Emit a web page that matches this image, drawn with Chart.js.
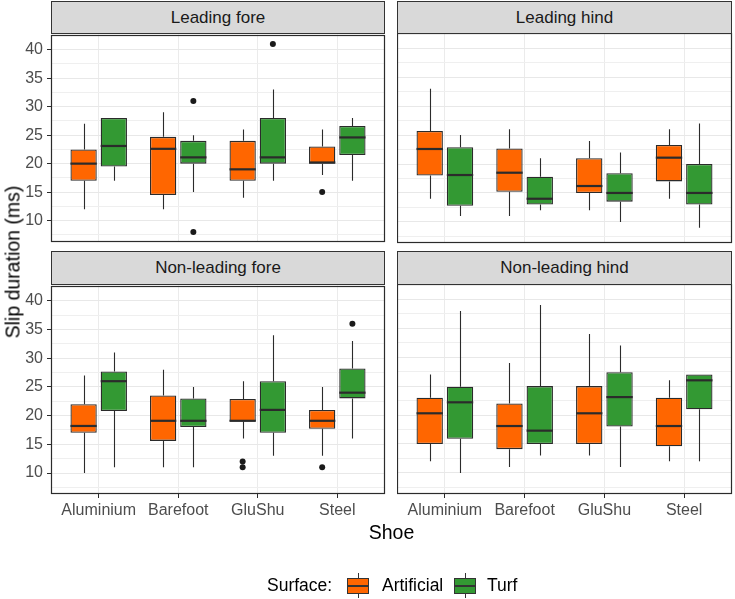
<!DOCTYPE html>
<html>
<head>
<meta charset="utf-8">
<script src="https://cdn.jsdelivr.net/npm/chart.js@4.4.1/dist/chart.umd.min.js"></script>
<style>
  body { margin: 0; background: #fff; font-family: 'Liberation Sans', Arial, sans-serif; }
  #wrap { position: relative; width: 735px; height: 599px; overflow: hidden; background: #fff; }
  canvas { position: absolute; }
  .strip { position: absolute; box-sizing: border-box; background: #D9D9D9; border: 1px solid #333;
           color: #1A1A1A; font-size: 17px; text-align: center; }
  .txt { position: absolute; white-space: nowrap; color: #000; }
  .key { position: absolute; box-sizing: border-box; width: 22px; height: 16px; border: 1px solid #333; }
  .key .med { position: absolute; left: 0; right: 0; top: 6px; height: 2px; background: #333; }
  .key .wh { position: absolute; left: 10px; width: 1px; height: 5px; background: #333; }
</style>
</head>
<body>
<div id="wrap"></div>
<script>
// categories
const shoes = ['Aluminium', 'Barefoot', 'GluShu', 'Steel'];
const surfaces = ['Artificial', 'Turf'];
const panelNames = ['Leading fore', 'Leading hind', 'Non-leading fore', 'Non-leading hind'];
const yTicks = [10, 15, 20, 25, 30, 35, 40];

// per shoe: [lower whisker, Q1, median, Q3, upper whisker]
const leadingForeArtificial = [[12, 17, 20, 22.5, 27], [12, 14.5, 22.6, 24.7, 29], [14, 17, 19, 24, 26], [18, 20, 20.2, 23, 26]];
const leadingForeTurf = [[17, 19.5, 23.1, 28, 28], [15, 20, 21.1, 24, 25], [17, 20, 21.1, 28, 33], [17, 21.5, 24.6, 26.6, 28]];
const leadingHindArtificial = [[14, 18, 22.6, 25.7, 33], [11, 15.2, 18.5, 22.7, 26], [12, 15, 16.2, 21, 24], [14, 17, 21.1, 23.3, 26]];
const leadingHindTurf = [[11, 12.8, 18.1, 22.9, 25], [12, 13, 14, 17.8, 21], [10, 13.5, 15, 18.4, 22], [9, 13, 15, 20, 27]];
const nonLeadingForeArtificial = [[10, 17, 18.2, 22, 27], [11, 15.6, 19.1, 23.5, 28], [16, 19, 19.1, 22.9, 26], [13, 17.7, 19.1, 21, 25]];
const nonLeadingForeTurf = [[11, 20.8, 26, 27.7, 31], [11, 18, 19.1, 23, 25], [13, 17, 21, 26, 34], [16, 23, 24, 28.2, 33]];
const nonLeadingHindArtificial = [[12, 15, 20.3, 23, 27], [11, 14.1, 18.1, 22, 29], [13, 15, 20.3, 25, 34], [12, 14.6, 18.1, 23, 26]];
const nonLeadingHindTurf = [[10, 15.9, 22.2, 24.9, 38], [13, 15, 17.3, 25, 39], [11, 18, 23.1, 27.4, 32], [12, 21, 26, 27, 27]];

// outliers per shoe
const leadingForeArtificialOut = [[], [], [], [15]];
const leadingForeTurfOut = [[], [31, 8], [41], []];
const nonLeadingForeArtificialOut = [[], [], [12, 11], [11]];
const nonLeadingForeTurfOut = [[], [], [], [36]];
const noOut = [[], [], [], []];

const fills = ['#FF6600', '#339933'];
const line = '#2B2B2B';
const font = "'Liberation Sans', Arial, sans-serif";

const boxParts = {
    id: 'boxParts',
    beforeDatasetsDraw: (chart) => {
        const y = chart.scales.y, c = chart.ctx;
        c.save();
        c.strokeStyle = line; c.lineWidth = 1.1;
        chart.data.datasets.forEach((ds, d) => {
            chart.getDatasetMeta(d).data.forEach((bar, i) => {
                const s = ds.stats[i], x = Math.round(bar.x) + 0.5;
                c.beginPath();
                c.moveTo(x, y.getPixelForValue(s[0])); c.lineTo(x, y.getPixelForValue(s[1]));
                c.moveTo(x, y.getPixelForValue(s[3])); c.lineTo(x, y.getPixelForValue(s[4]));
                c.stroke();
            });
        });
        c.restore();
    },
    afterDatasetsDraw: (chart) => {
        const y = chart.scales.y, c = chart.ctx;
        c.save();
        chart.data.datasets.forEach((ds, d) => {
            chart.getDatasetMeta(d).data.forEach((bar, i) => {
                const s = ds.stats[i];
                c.strokeStyle = line; c.lineWidth = 2.2;
                c.beginPath();
                c.moveTo(bar.x - bar.width / 2, y.getPixelForValue(s[2]));
                c.lineTo(bar.x + bar.width / 2, y.getPixelForValue(s[2]));
                c.stroke();
                c.fillStyle = '#1A1A1A';
                ds.outliers[i].forEach(v => {
                    c.beginPath();
                    c.arc(bar.x, y.getPixelForValue(v), 3, 0, Math.PI * 2);
                    c.fill();
                });
            });
        });
        c.restore();
    },
    afterDraw: (chart) => {
        const a = chart.chartArea, c = chart.ctx;
        c.save();
        c.strokeStyle = line; c.lineWidth = 1.2;
        c.strokeRect(Math.round(a.left) + 0.5, Math.round(a.top) + 0.5, Math.round(a.right - a.left) - 1, Math.round(a.bottom - a.top) - 1);
        c.restore();
    }
};

const wrap = document.getElementById('wrap');
const add = (tag, cls, css, text) => {
    const el = document.createElement(tag);
    if (cls) el.className = cls;
    Object.assign(el.style, css);
    if (text) el.textContent = text;
    wrap.appendChild(el);
    return el;
};

const makePanel = (p) => {
    const L = p.col === 0 ? 51 : 0, B = p.row === 1 ? 32 : 0, T = 12, R = 3, PB = p.row === 1 ? 0 : 12;
    const cv = add('canvas', '', { left: (p.x - L) + 'px', top: (p.y - T) + 'px' });
    cv.width = L + p.w + R; cv.height = T + p.h + B + PB;

    new Chart(cv.getContext('2d'), {
        type: 'bar',
        data: {
            datasets: [p.art, p.turf].map((stats, k) => ({
                label: surfaces[k],
                data: stats.map((s, i) => ({ x: i + 1, y: [s[1], s[3]] })),
                stats: stats,
                outliers: [p.artOut, p.turfOut][k],
                backgroundColor: fills[k],
                borderColor: line,
                borderWidth: 1.3,
                borderSkipped: false,
                categoryPercentage: 0.76,
                barPercentage: 0.87
            }))
        },
        options: {
            responsive: false,
            animation: false,
            devicePixelRatio: 1,
            layout: { padding: { top: T, right: R, left: 0, bottom: PB } },
            plugins: { legend: { display: false }, tooltip: { enabled: false } },
            scales: {
                x: {
                    type: 'linear', min: 0.4, max: 4.6, offset: false,
                    afterBuildTicks: (s) => { s.ticks = shoes.map((_, i) => ({ value: i + 1 })); },
                    afterFit: (s) => { s.height = B; },
                    border: { display: false },
                    grid: { offset: false, color: '#EBEBEB', lineWidth: 1, drawTicks: p.row === 1, tickLength: 4, tickColor: line },
                    ticks: { display: p.row === 1, autoSkip: false, maxRotation: 0, padding: 3, color: '#4D4D4D',
                             font: { family: font, size: 16 }, callback: (v) => shoes[v - 1] }
                },
                y: {
                    min: 6.35, max: 42.65,
                    afterBuildTicks: (s) => {
                        const t = [];
                        yTicks.forEach(v => t.push({ value: v - 2.5 }, { value: v }));
                        t.push({ value: 42.5 });
                        s.ticks = t;
                    },
                    afterFit: (s) => { s.width = L; },
                    border: { display: false },
                    grid: { color: (ctx) => (ctx.tick && ctx.tick.value % 5 === 0 ? '#E8E8E8' : '#EFEFEF'), lineWidth: 1,
                            drawTicks: p.col === 0, tickLength: 4,
                            tickColor: (ctx) => (ctx.tick && ctx.tick.value % 5 === 0 ? line : 'rgba(0,0,0,0)') },
                    ticks: { display: p.col === 0, autoSkip: false, padding: 4, color: '#4D4D4D',
                             font: { family: font, size: 16 }, callback: (v) => (v % 5 === 0 ? String(v) : '') }
                }
            }
        },
        plugins: [boxParts]
    });
};

const panels = [
    { name: panelNames[0], row: 0, col: 0, x: 51, y: 33, w: 334, h: 210, sy: 1, sh: 33, art: leadingForeArtificial, turf: leadingForeTurf, artOut: leadingForeArtificialOut, turfOut: leadingForeTurfOut },
    { name: panelNames[1], row: 0, col: 1, x: 397, y: 33, w: 335, h: 210, sy: 1, sh: 33, art: leadingHindArtificial, turf: leadingHindTurf, artOut: noOut, turfOut: noOut },
    { name: panelNames[2], row: 1, col: 0, x: 51, y: 284, w: 334, h: 210, sy: 251, sh: 34, art: nonLeadingForeArtificial, turf: nonLeadingForeTurf, artOut: nonLeadingForeArtificialOut, turfOut: nonLeadingForeTurfOut },
    { name: panelNames[3], row: 1, col: 1, x: 397, y: 284, w: 335, h: 210, sy: 251, sh: 34, art: nonLeadingHindArtificial, turf: nonLeadingHindTurf, artOut: noOut, turfOut: noOut }
];
panels.forEach(makePanel);
// strips above the canvases
panels.forEach(p => add('div', 'strip', { left: p.x + 'px', top: p.sy + 'px', width: p.w + 'px', height: p.sh + 'px', lineHeight: (p.sh - 2) + 'px' }, p.name));

// axis titles
add('div', 'txt', { left: '12.5px', top: '262px', fontSize: '19.5px', transform: 'translate(-50%,-50%) rotate(-90deg)' }, 'Slip duration (ms)');
add('div', 'txt', { left: '391.5px', top: '532px', fontSize: '19.5px', transform: 'translate(-50%,-50%)' }, 'Shoe');

// legend
add('div', 'txt', { left: '267px', top: '585px', fontSize: '17.5px', transform: 'translateY(-50%)' }, 'Surface:');
[[347, 382], [454, 487]].forEach(([kx, tx], k) => {
    const key = add('div', 'key', { left: kx + 'px', top: '578px', background: fills[k] });
    key.innerHTML = '<div class="med"></div><div class="wh" style="top:-6px"></div><div class="wh" style="top:14px"></div>';
    add('div', 'txt', { left: tx + 'px', top: '585px', fontSize: '17.5px', transform: 'translateY(-50%)' }, surfaces[k]);
});
</script>
</body>
</html>
